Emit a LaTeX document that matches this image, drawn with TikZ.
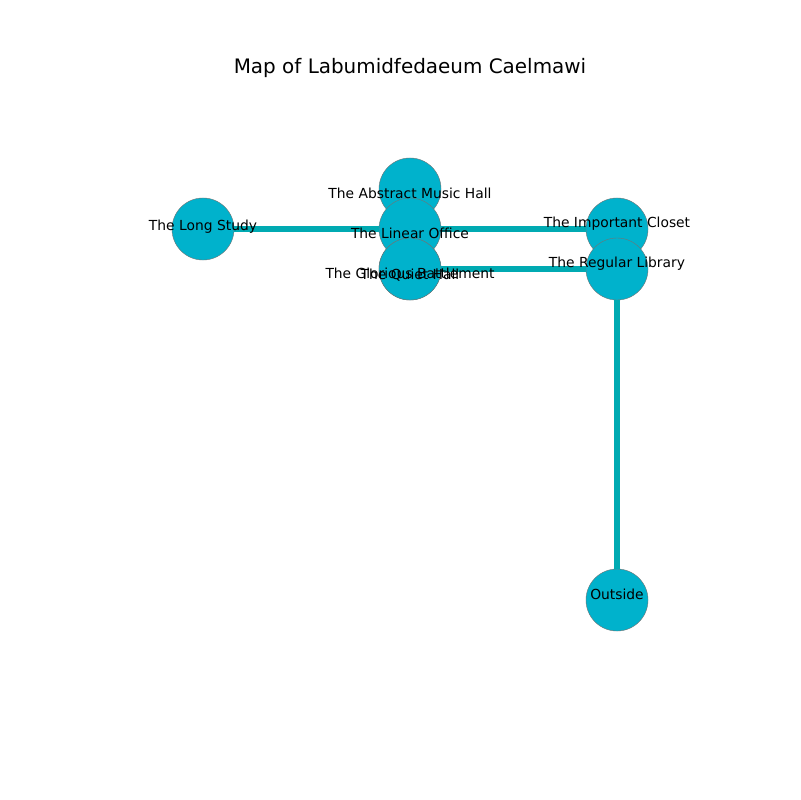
\documentclass[tikz,border=0pt]{standalone}
\usepackage{fontspec}
\setmainfont{DejaVu Sans}
\definecolor{roomfill}{RGB}{0,178,204}
\definecolor{passagecol}{RGB}{0,170,178}
\begin{document}
\begin{tikzpicture}[x=0.01in, y=-0.01in,
  room/.style={circle, draw=black!55, line width=0.3pt, fill=roomfill, minimum size=0.62in, inner sep=0pt},
  lbl/.style={font=\fontsize{10}{12}\selectfont, inner sep=0pt},
  passage/.style={draw=passagecol, line width=4pt}]
\useasboundingbox (0,0) rectangle (800,800);
\node[lbl, font=\fontsize{14.4}{17}\selectfont] (title) at (410,68.5) {Map of Labumidfedaeum Caelmawi};
\node[room] (abstract) at (410,189){};
\node[room] (long) at (203,229){};
\node[room] (linear) at (410,229){};
\node[room] (closet) at (617,229){};
\node[room] (glorious) at (410,269){};
\node[room] (quiet) at (410,269){};
\node[room] (library) at (617,269){};
\node[room] (outside) at (617,600){};
\draw[passage](long) -- (linear);
\draw[passage](linear) -- (closet);
\draw[passage](quiet) -- (library);
\draw[passage](library) -- (outside);
\node[lbl] (abstractlbl) at (410,193){The Abstract Music Hall};
\node[lbl] (longlbl) at (203,226.5){The Long Study};
\node[lbl] (linearlbl) at (410,233.5){The Linear Office};
\node[lbl] (closetlbl) at (617,223.5){The Important Closet};
\node[lbl] (gloriouslbl) at (410,273.5){The Glorious Battlement};
\node[lbl] (quietlbl) at (410,275){The Quiet Hall};
\node[lbl] (librarylbl) at (617,263.5){The Regular Library};
\node[lbl] (outsidelbl) at (617,594){Outside};
\end{tikzpicture}
\end{document}
